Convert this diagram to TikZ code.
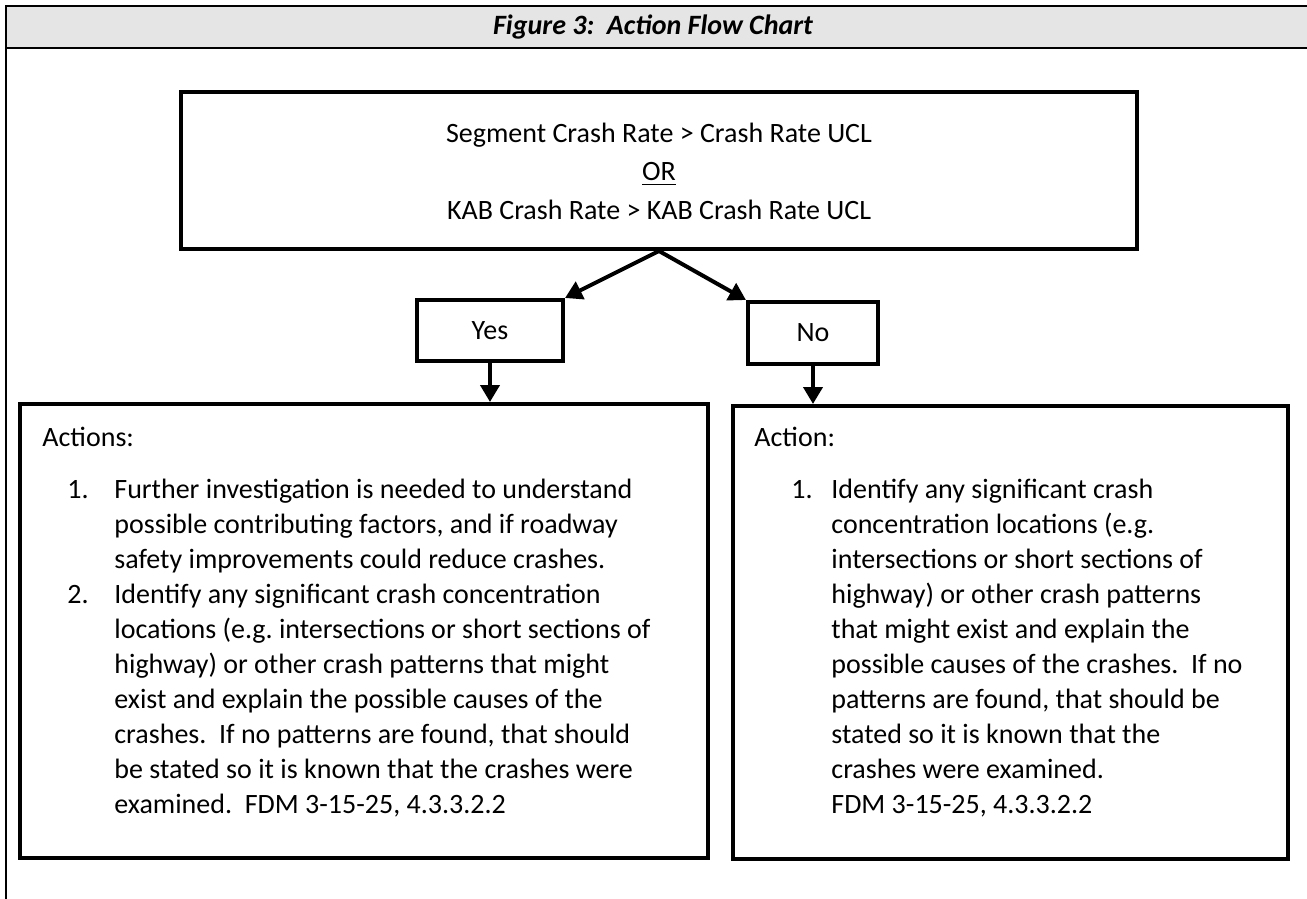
\documentclass[tikz,border=0pt]{standalone}
\usepackage{fontspec}
\setmainfont{Carlito}
\usetikzlibrary{arrows.meta}
\definecolor{headergray}{RGB}{229,229,229}
\frenchspacing

\begin{document}
\begin{tikzpicture}[x=0.5pt,y=-0.5pt,
		flowbox/.style={draw, line width=2pt, inner sep=0pt, font=\fontsize{14}{17.5}\selectfont},
		flowarrow/.style={line width=2pt, -{Triangle[length=8.5pt,width=9.5pt]}},
		boxtext/.style={font=\fontsize{14}{17.5}\selectfont, inner sep=0pt, align=left, anchor=base west}]
		% Define page size
		\useasboundingbox (0,0) rectangle (1307,899);

		% Draw the frame and the header
		\fill[headergray] (6,6) rectangle (1307,48);
		\draw[line width=1pt] (1307,6) -- (6,6) -- (6,899);
		\draw[line width=1pt] (6,48) -- (1307,48);
		\node[font=\fontsize{14}{16}\selectfont\bfseries\itshape] (title) at (653,27) {Figure 3:\ \ Action Flow Chart};

		% Draw the boxes
		\node[flowbox, minimum width=478pt, minimum height=78.5pt] (cond) at (659,170.5) {};
		\node[flowbox, minimum width=73pt, minimum height=30.5pt] (yes) at (490,330.5) {Yes};
		\node[flowbox, minimum width=65pt, minimum height=31pt] (no) at (813,333) {No};
		\node[flowbox, minimum width=344pt, minimum height=227pt] (yesact) at (364,631) {};
		\node[flowbox, minimum width=277.5pt, minimum height=226.5pt] (noact) at (1010.5,632.5) {};

		% Condition text (base is the last line)
		\node[boxtext, anchor=base, align=center, font=\fontsize{14}{19.5}\selectfont] (condtext) at (659,220) {Segment Crash Rate > Crash Rate UCL\\\underline{OR}\\KAB Crash Rate > KAB Crash Rate UCL};

		% Draw the arrows
		\draw[flowarrow] (cond.south) -- (yes.north east);
		\draw[flowarrow] (cond.south) -- (no.north west);
		\draw[flowarrow] (yes.south) -- (yes.south |- yesact.north);
		\draw[flowarrow] (no.south) -- (no.south |- noact.north);

		% Actions for yes
		\node[boxtext] (yeshead) at (42,446) {Actions:};
		\node[boxtext] (yesnumA) at (67,498) {1.};
		\node[boxtext] (yesitemA) at (114,568) {Further investigation is needed to understand\\possible contributing factors, and if roadway\\safety improvements could reduce crashes.};
		\node[boxtext] (yesnumB) at (67,603) {2.};
		\node[boxtext] (yesitemB) at (114,813) {Identify any significant crash concentration\\locations (e.g. intersections or short sections of\\highway) or other crash patterns that might\\exist and explain the possible causes of the\\crashes.\ \ If no patterns are found, that should\\be stated so it is known that the crashes were\\examined.\ \ FDM 3-15-25, 4.3.3.2.2};

		% Action for no
		\node[boxtext] (nohead) at (754,446) {Action:};
		\node[boxtext] (nonumA) at (791,498) {1.};
		\node[boxtext] (noitemA) at (831,813) {Identify any significant crash\\concentration locations (e.g.\\intersections or short sections of\\highway) or other crash patterns\\that might exist and explain the\\possible causes of the crashes.\ \ If no\\patterns are found, that should be\\stated so it is known that the\\crashes were examined.\\FDM 3-15-25, 4.3.3.2.2};
	\end{tikzpicture}
\end{document}
